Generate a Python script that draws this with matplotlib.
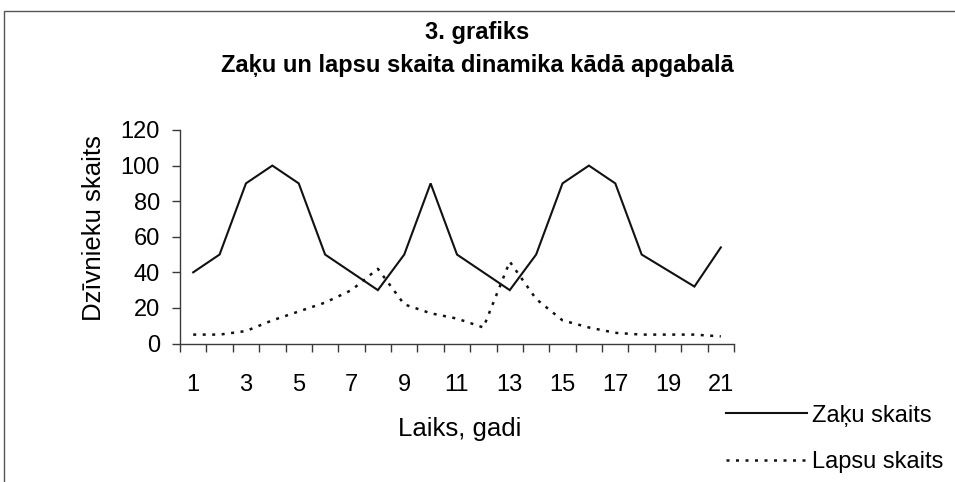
import matplotlib
matplotlib.use("Agg")
import matplotlib.pyplot as plt
from matplotlib.lines import Line2D
from matplotlib.patches import Rectangle

plt.rcParams["font.family"] = ["Liberation Sans", "DejaVu Sans"]

years = list(range(1, 22))
zaki = [40, 50, 90, 100, 90, 50, 40, 30, 50, 90, 50, 40, 30, 50, 90, 100, 90, 50, 41, 32, 54]
lapsas = [5, 5, 7, 13, 18, 23, 30, 42, 22, 17, 14, 9, 46, 25, 13, 9, 6, 5, 5, 5, 4]
x_ticklabels = [str(y) for y in years[::2]]

TITLE = "3. grafiks\nZaķu un lapsu skaita dinamika kādā apgabalā"
LINE_COLOR = "#111111"
AXIS_COLOR = "#3a3a3a"
DOTS = (0, (1.2, 2.6))

fig = plt.figure(figsize=(9.55, 4.82), dpi=100)
ax = fig.add_axes([180 / 955, 1 - 343.5 / 482, 554 / 955, 213.5 / 482])

ax.plot(years, zaki, color=LINE_COLOR, lw=1.5, solid_joinstyle="miter")
ax.plot(years, lapsas, color=LINE_COLOR, lw=1.8, linestyle=DOTS)

ax.set_xlim(0.5, 21.5)
ax.set_ylim(0, 120)
ax.set_yticks(range(0, 121, 20))
ax.set_xticks(years[::2])
ax.set_xticklabels(x_ticklabels)
ax.set_xticks([y + 0.5 for y in range(0, 22)], minor=True)

for side in ("top", "right"):
    ax.spines[side].set_visible(False)
for side in ("left", "bottom"):
    ax.spines[side].set_color(AXIS_COLOR)
    ax.spines[side].set_linewidth(1.0)

ax.tick_params(axis="y", direction="out", length=6, width=1, color=AXIS_COLOR,
               labelsize=17, pad=8.5)
ax.tick_params(axis="x", which="major", length=0, labelsize=17, pad=22)
ax.tick_params(axis="x", which="minor", direction="out", length=6, width=1, color=AXIS_COLOR)

ax.set_ylabel("Dzīvnieku skaits", fontsize=18.5)
ax.yaxis.set_label_coords(-0.134, 0.54)
ax.set_xlabel("Laiks, gadi", fontsize=18.5)
ax.xaxis.set_label_coords(0.504, -0.343)

fig.text(477 / 955, 1 - 49 / 482, TITLE, ha="center", va="center", fontsize=17,
         fontweight="bold", linespacing=1.55)

# legend drawn at the lower right, outside the plot area
leg_handles = [
    Line2D([], [], color=LINE_COLOR, lw=1.5),
    Line2D([], [], color=LINE_COLOR, lw=1.8, linestyle=DOTS),
]
leg = fig.legend(leg_handles, ["Zaķu skaits", "Lapsu skaits"], loc="center left",
                 bbox_to_anchor=(705 / 955, 1 - 439 / 482), frameon=False,
                 fontsize=17, handlelength=3.4, handletextpad=0.25, labelspacing=1.05)

# chart area border (continues past right and bottom edge of the image)
fig.patches.append(Rectangle((4 / 955, -0.1), 1.2, 1 - 11 / 482 + 0.1,
                             transform=fig.transFigure, fill=False,
                             edgecolor="#555555", lw=1.0))

fig.savefig("out.png", dpi=100, facecolor="white")
